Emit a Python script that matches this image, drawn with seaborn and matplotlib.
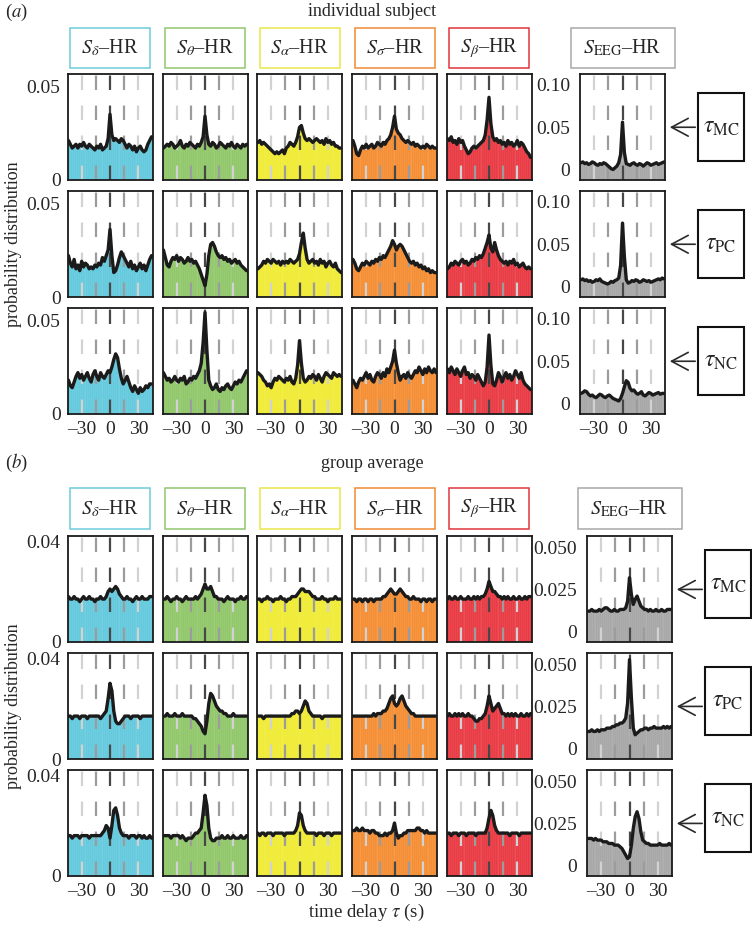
import numpy as np
import matplotlib
matplotlib.use("Agg")
import matplotlib.pyplot as plt
import seaborn as sns
from matplotlib.patches import Rectangle, FancyArrowPatch

# ---------------- data (probability values in units of 1e-3) ----------------
tau = list(range(-44, 45, 2))  # time delay (s), bin centres

band_names = ["δ", "θ", "α", "σ", "β"]
band_titles = [r"$S_{\delta}$–HR", r"$S_{\theta}$–HR", r"$S_{\alpha}$–HR",
               r"$S_{\sigma}$–HR", r"$S_{\beta}$–HR"]
eeg_title = r"$S_{\mathrm{EEG}}$–HR"
row_labels = [r"$\tau_{\mathrm{MC}}$", r"$\tau_{\mathrm{PC}}$", r"$\tau_{\mathrm{NC}}$"]

# ---- (a) individual subject ----
a_mc_delta = [21,19,17,18,19,17,19,18,20,18,17,19,18,17,16,
              18,17,19,16,17,18,22,35,24,21,22,21,20,22,21,
              19,17,19,18,16,18,15,17,18,16,15,16,19,21,23]
a_mc_theta = [17,18,19,18,20,19,17,18,19,21,18,17,19,18,20,
              19,18,17,19,18,20,23,34,24,19,18,20,19,17,18,
              20,19,18,17,19,18,20,18,17,19,18,17,19,18,19]
a_mc_alpha = [20,21,19,20,19,18,17,16,15,14,15,14,15,16,14,
              17,18,20,19,18,20,23,28,29,25,22,21,22,21,20,
              21,22,21,20,21,19,22,20,21,19,20,18,18,17,17]
a_mc_sigma = [21,18,14,13,16,18,17,19,17,18,19,17,18,20,19,
              18,20,19,21,22,24,28,34,27,25,24,22,21,20,21,
              20,19,20,18,19,18,17,18,17,19,18,17,18,17,17]
a_mc_beta  = [22,21,23,20,21,19,22,20,21,18,16,14,15,17,18,
              17,18,19,20,21,24,32,44,30,23,21,22,20,21,19,
              20,18,21,19,20,18,19,21,18,20,19,17,15,14,12]
a_mc_eeg   = [8,9,7,8,6,7,9,8,6,5,7,6,8,7,5,
              3,1,0,2,4,8,18,56,20,7,6,5,7,8,6,
              5,7,6,4,6,8,7,5,6,7,8,6,7,8,9]

a_pc_delta = [22,18,16,20,15,17,14,19,16,18,17,15,16,15,17,
              16,18,17,21,19,22,25,36,22,13,14,17,21,24,22,
              20,18,16,19,15,17,14,16,18,15,17,14,17,20,22]
a_pc_theta = [25,21,17,16,19,21,20,22,19,21,20,18,19,21,19,
              20,18,19,17,15,12,9,6,12,22,28,29,27,24,22,
              21,22,20,21,19,20,18,19,20,18,19,17,16,15,14]
a_pc_alpha = [15,16,17,19,18,20,19,18,20,19,18,19,17,19,18,
              19,18,20,19,18,19,20,23,29,34,26,20,18,19,20,
              18,19,17,20,18,19,16,18,19,17,16,18,15,14,13]
a_pc_sigma = [20,18,15,14,16,18,17,19,18,17,19,18,20,19,21,
              20,22,21,23,25,27,30,28,25,27,28,27,25,23,21,
              19,18,19,17,18,16,17,15,16,14,15,13,14,13,13]
a_pc_beta  = [15,16,18,17,19,18,17,19,20,18,19,17,18,20,19,
              21,20,22,21,23,26,29,33,26,24,29,25,22,20,19,
              18,19,17,19,18,20,17,18,16,17,18,16,15,16,15]
a_pc_eeg   = [8,9,7,8,6,7,5,6,8,7,9,6,5,4,3,
              4,6,5,7,8,10,25,75,35,8,4,5,7,6,8,
              7,5,6,8,7,6,7,5,6,7,8,9,8,10,9]

a_nc_delta = [18,15,14,17,20,22,19,21,18,20,22,19,17,21,23,
              20,18,22,20,19,21,23,22,25,29,32,30,24,19,16,
              18,20,17,14,12,15,13,11,14,12,13,15,14,16,16]
a_nc_theta = [22,20,18,19,17,18,20,18,17,19,18,20,16,17,19,
              18,20,19,21,23,27,38,54,34,18,15,13,14,16,13,
              12,14,13,15,16,14,13,15,17,16,18,17,19,21,23]
a_nc_alpha = [22,21,20,18,17,15,16,14,17,19,18,20,19,18,17,
              19,18,20,17,16,19,26,39,27,19,17,18,20,19,21,
              20,18,21,19,17,20,22,21,20,19,22,21,20,21,20]
a_nc_sigma = [18,16,14,17,19,18,20,22,19,21,18,17,20,22,21,
              19,22,20,24,22,25,28,34,27,22,18,20,21,19,22,
              20,19,21,23,22,25,23,21,24,22,25,23,22,24,22]
a_nc_beta  = [24,22,25,23,21,24,22,20,23,25,21,22,19,21,20,
              18,21,19,17,15,17,25,42,26,16,15,18,22,20,17,
              20,22,19,21,18,20,23,21,19,22,18,16,15,14,13]
a_nc_eeg   = [12,13,15,14,11,9,10,8,7,9,11,10,8,7,9,
              10,8,6,5,4,3,6,12,20,27,25,18,15,16,13,
              11,12,14,10,9,11,13,12,10,11,12,13,11,12,12]

# ---- (b) group average ----
b_mc_delta = [18,17,17,18,17,17,16,17,18,17,17,18,17,17,16,
              17,17,18,17,17,18,20,21,20,21,22,21,19,18,17,
              17,18,17,17,16,17,18,17,17,18,17,17,17,18,18]
b_mc_theta = [17,17,18,17,16,17,17,18,17,17,16,17,18,17,17,
              17,17,18,17,18,19,21,23,21,21,22,20,18,18,17,
              17,17,16,17,18,17,17,17,16,17,17,18,17,17,18]
b_mc_alpha = [17,17,16,17,17,18,17,17,16,17,17,17,18,17,17,
              16,17,17,18,18,18,19,20,21,21,20,20,20,19,18,
              18,17,17,17,18,17,17,16,17,17,17,18,17,17,17]
b_mc_sigma = [17,17,16,17,17,16,17,17,16,17,17,16,17,17,17,
              17,18,18,19,20,21,20,19,19,20,21,20,19,18,18,
              17,17,18,17,17,17,16,17,17,16,17,17,16,17,17]
b_mc_beta  = [17,18,17,17,18,17,17,18,17,17,17,18,17,17,18,
              17,18,17,18,18,19,21,24,22,20,20,19,18,18,17,
              18,17,18,17,17,18,17,17,18,17,17,18,17,18,18]
b_mc_eeg   = [12,12,13,12,12,12,13,12,13,14,14,13,12,12,13,
              12,12,13,13,13,14,18,32,22,16,19,21,18,15,14,
              13,13,12,13,12,12,13,12,12,13,12,12,13,13,13]

b_pc_delta = [17,17,16,17,17,17,16,17,17,17,16,17,17,17,17,
              17,17,16,17,18,19,24,30,27,19,15,14,14,15,16,
              17,17,17,16,17,17,17,17,16,17,17,17,17,17,17]
b_pc_theta = [17,17,18,17,17,17,18,17,17,17,18,17,17,17,17,
              17,16,16,15,14,13,11,10,15,22,26,25,23,21,20,
              19,19,18,18,17,17,17,18,17,17,17,17,17,17,17]
b_pc_alpha = [17,17,17,16,17,17,17,17,17,17,17,17,17,17,17,
              17,17,17,18,18,19,19,18,19,21,23,22,19,18,17,
              17,17,17,17,16,17,17,17,17,17,17,17,17,17,17]
b_pc_sigma = [17,17,17,17,17,17,17,17,17,17,17,18,17,18,18,
              18,19,19,20,22,24,25,22,21,22,24,25,23,21,20,
              19,18,18,17,17,17,17,17,17,17,17,17,17,17,17]
b_pc_beta  = [17,18,17,17,18,17,18,17,18,17,17,18,17,17,16,
              15,15,16,16,17,18,21,25,22,19,20,21,22,20,18,
              18,17,18,17,18,17,18,17,17,18,17,17,18,17,18]
b_pc_eeg   = [10,10,11,10,10,11,10,11,11,11,12,12,12,13,13,
              14,14,15,15,16,18,27,53,30,12,8,9,10,11,11,
              12,12,11,12,12,13,12,12,12,12,13,12,13,12,13]

b_nc_delta = [16,16,15,16,16,16,15,16,16,16,16,15,16,16,16,
              16,16,16,17,18,20,19,15,20,26,27,24,19,17,16,
              16,16,15,16,16,16,15,16,16,15,16,15,15,16,15]
b_nc_theta = [16,16,16,16,15,16,16,16,16,15,16,15,14,15,15,
              15,16,17,17,18,19,25,32,28,19,15,14,14,15,15,
              15,16,15,15,16,15,15,16,15,15,15,16,15,15,16]
b_nc_alpha = [17,16,17,17,16,17,17,17,16,17,17,17,17,17,16,
              17,17,17,17,17,18,20,25,24,20,18,17,17,17,17,
              17,16,17,17,17,16,17,17,17,16,17,17,17,17,17]
b_nc_sigma = [18,18,19,18,18,19,18,18,18,17,18,18,17,17,16,
              16,16,17,16,17,17,18,21,17,15,16,16,17,17,18,
              18,18,18,18,19,19,18,18,17,18,17,17,17,17,17]
b_nc_beta  = [17,17,16,17,17,17,16,17,17,17,16,17,17,17,17,
              16,17,17,17,17,17,19,23,26,24,20,18,17,17,17,
              17,17,17,16,17,17,17,17,16,17,17,17,17,17,17]
b_nc_eeg   = [16,16,16,15,16,15,15,15,14,14,14,13,13,13,12,
              12,12,11,10,8,6,4,5,12,22,29,32,28,20,15,
              14,13,13,12,12,12,12,12,13,12,12,12,12,13,12]

panel_a = [[a_mc_delta, a_mc_theta, a_mc_alpha, a_mc_sigma, a_mc_beta, a_mc_eeg],
           [a_pc_delta, a_pc_theta, a_pc_alpha, a_pc_sigma, a_pc_beta, a_pc_eeg],
           [a_nc_delta, a_nc_theta, a_nc_alpha, a_nc_sigma, a_nc_beta, a_nc_eeg]]
panel_b = [[b_mc_delta, b_mc_theta, b_mc_alpha, b_mc_sigma, b_mc_beta, b_mc_eeg],
           [b_pc_delta, b_pc_theta, b_pc_alpha, b_pc_sigma, b_pc_beta, b_pc_eeg],
           [b_nc_delta, b_nc_theta, b_nc_alpha, b_nc_sigma, b_nc_beta, b_nc_eeg]]

x_ticks = [-30, 0, 30]
x_ticklabels = ["–30", "0", "30"]
guide_lines = [-30, -15, 0, 15, 30]

# ---------------- style ----------------
sns.set_theme(style="white")
plt.rcParams["font.family"] = ["Liberation Serif", "DejaVu Serif"]
plt.rcParams["mathtext.fontset"] = "stix"

bar_colors = ["#5dc7dc", "#8cc563", "#f0ea2c", "#f5892b", "#e8313b", "#a3a3a3"]
box_colors = ["#6fcbdc", "#8fc66c", "#e9e74a", "#f08a36", "#e0353e", "#a8a8a8"]
guide_colors = {-30: "#d2d2d2", -15: "#9c9c9c", 0: "#474747", 15: "#9c9c9c", 30: "#d2d2d2"}

W, H = 752, 925
fig = plt.figure(figsize=(W / 100, H / 100), dpi=100)
FS = 13
TFS = 14


def add_ax(left, top, width, height):
    return fig.add_axes([left / W, 1 - (top + height) / H, width / W, height / H])


col_lefts = [67.5, 162.5, 257, 352, 446.5]
col_w = 85
row_h = 106

panels = [
    dict(data=panel_a, tops=[74, 191, 308], eeg_left=580, box_top=28, box_bottom=68,
         title="individual subject", tag="a", title_y=12,
         band_ylim=(0, 56.4), band_ticks=[0, 50], band_tl=["0", "0.05"],
         eeg_ylim=(-12.4, 113), eeg_ticks=[0, 50, 100], eeg_tl=["0", "0.05", "0.10"],
         arrow_val=50, tau_left=698, tau_shift=0),
    dict(data=panel_b, tops=[536, 653, 770], eeg_left=587, box_top=488, box_bottom=529,
         title="group average", tag="b", title_y=463,
         band_ylim=(0, 42), band_ticks=[0, 40], band_tl=["0", "0.04"],
         eeg_ylim=(-6.5, 57), eeg_ticks=[0, 25, 50], eeg_tl=["0", "0.025", "0.050"],
         arrow_val=25, tau_left=705, tau_shift=-5),
]

for P in panels:
    lefts = col_lefts + [P["eeg_left"]]
    fig.text(5 / W, 1 - P["title_y"] / H, "($" + P["tag"] + "$)",
             fontsize=FS + 0.5, ha="left", va="center")
    fig.text(372 / W, 1 - P["title_y"] / H, P["title"], fontsize=FS, ha="center", va="center")
    for j in range(6):
        bw = 80 if j < 5 else 104
        cx = lefts[j] + col_w / 2
        bt, bb = P["box_top"], P["box_bottom"]
        fig.patches.append(Rectangle(((cx - bw / 2) / W, 1 - bb / H), bw / W, (bb - bt) / H,
                                     transform=fig.transFigure, facecolor="white",
                                     edgecolor=box_colors[j], linewidth=1.1))
        title = band_titles[j] if j < 5 else eeg_title
        fig.text(cx / W, 1 - (bt + bb) / 2 / H, title, fontsize=TFS + 0.5,
                 ha="center", va="center")

    for r in range(3):
        for j in range(6):
            ax = add_ax(lefts[j], P["tops"][r], col_w, row_h)
            vals = np.array(P["data"][r][j], dtype=float)
            ylo, yhi = (P["band_ylim"] if j < 5 else P["eeg_ylim"])
            ax.bar(tau, vals - ylo, width=2.0, bottom=ylo, color=bar_colors[j],
                   edgecolor=(1, 1, 1, 0.22), linewidth=0.35, zorder=1)
            for g in guide_lines:
                ax.axvline(g, color=guide_colors[g], linewidth=1.6,
                           linestyle=(0, (6.5, 7)), zorder=2)
            sns.lineplot(x=tau, y=vals, ax=ax, color="#1b1b1b", linewidth=2.4,
                         zorder=3, legend=False)
            ax.set_xlim(-45, 45)
            ax.set_ylim(ylo, yhi)
            ax.set_xlabel("")
            ax.set_ylabel("")
            for s in ax.spines.values():
                s.set_color("#1a1a1a")
                s.set_linewidth(1.3)
                s.set_visible(True)
            ax.tick_params(length=0, labelsize=TFS, pad=5)
            if r == 2:
                ax.set_xticks(x_ticks)
                ax.set_xticklabels(x_ticklabels)
            else:
                ax.set_xticks([])
            if j == 0:
                ax.set_yticks(P["band_ticks"])
                ax.set_yticklabels(P["band_tl"])
            elif j == 5:
                ax.set_yticks(P["eeg_ticks"])
                ax.set_yticklabels(P["eeg_tl"])
                ax.tick_params(axis="y", pad=7)
            else:
                ax.set_yticks([])
            if j == 5:
                ydisp = ax.transData.transform((0, P["arrow_val"]))[1]
                yfig = ydisp / fig.bbox.height
                xr = (lefts[j] + col_w + 2) / W
                tl = P["tau_left"]
                arr = FancyArrowPatch((tl / W, yfig), (xr, yfig), transform=fig.transFigure,
                                      arrowstyle="->,head_length=0.6,head_width=0.32",
                                      mutation_scale=20, color="#2a2a2a", linewidth=1.2)
                fig.patches.append(arr)
                cy = (1 - yfig) * H + P["tau_shift"]
                bh, bwid = 68, 46
                fig.patches.append(Rectangle((tl / W, 1 - (cy + bh / 2) / H), bwid / W, bh / H,
                                             transform=fig.transFigure, facecolor="white",
                                             edgecolor="#111111", linewidth=1.5))
                fig.text((tl + bwid / 2) / W, 1 - cy / H, row_labels[r], fontsize=17,
                         ha="center", va="center")

    mid = (P["tops"][0] + P["tops"][2] + row_h) / 2
    fig.text(14 / W, 1 - mid / H, "probability distribution", rotation=90,
             fontsize=FS, ha="center", va="center")

fig.text(366 / W, 1 - 912 / H, r"time delay $\tau$ (s)", fontsize=FS + 0.5,
         ha="center", va="center")

fig.savefig("out.png", dpi=100)
